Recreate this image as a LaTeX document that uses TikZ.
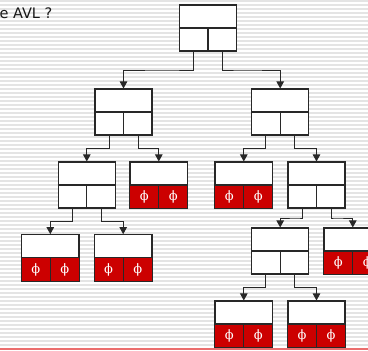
\documentclass[tikz,border=0pt]{standalone}
\usepackage{fontspec}
\newfontfamily\titlefont{DejaVu Sans}
\newfontfamily\nilfont{DejaVu Serif}
\usetikzlibrary{calc,arrows.meta}
\definecolor{nilred}{RGB}{204,0,0}
\definecolor{boxline}{RGB}{40,40,40}
\definecolor{stripe}{RGB}{228,228,228}
\definecolor{rule}{RGB}{235,110,110}
\tikzset{
    % one tree node: key on top, two child pointers below
    avl/.style={
        draw=boxline, fill=white, line width=1.1pt,
        minimum width=57pt, minimum height=46pt, inner sep=0pt
    },
    % pointer from a child cell down to the next node
    ptr/.style={line width=0.9pt, draw=boxline,
        -{Triangle[width=7.5pt,length=7pt]}},
    nil/.style={text=white, font=\nilfont\fontsize{13}{13}\selectfont, inner sep=0pt},
}

\begin{document}
\begin{tikzpicture}[x=1pt,y=-1pt]
  \useasboundingbox (0,0) rectangle (368,351);
  % striped background
  \fill[white] (0,0) rectangle (368,351);
  \foreach \yy in {1,5,...,345}
    \draw[stripe,line width=1.4pt] (0,\yy) -- (368,\yy);
  \draw[rule,line width=1.6pt] (0,349) -- (368,349);

  \node[anchor=base west,font=\titlefont\fontsize{14.5}{16}\selectfont,text=black!90]
    (title) at (-4,18) {e AVL ?};

  % nodes, level by level
  \node[avl] (r) at (208,28) {};
  \node[avl] (a) at (123.5,112) {};
  \node[avl] (b) at (280.2,112) {};
  \node[avl] (c) at (86.8,185) {};
  \node[avl] (d) at (158.8,185) {};
  \node[avl] (e) at (243.8,185) {};
  \node[avl] (f) at (316.5,185) {};
  \node[avl] (g) at (50.3,257.7) {};
  \node[avl] (h) at (123.2,257.7) {};
  \node[avl] (i) at (280.2,251) {};
  \node[avl] (j) at (352.8,251) {};
  \node[avl] (k) at (243.8,324) {};
  \node[avl] (l) at (316.5,324) {};

  % empty subtrees: red cells with phi
  \foreach \n in {d,e,g,h,j,k,l} {
    \fill[nilred] (\n.west) rectangle (\n.south east);
    \node[nil] (\n-nl) at ($(\n.west)!.5!(\n.south)$) {ϕ};
    \node[nil] (\n-nr) at ($(\n.east)!.5!(\n.south)$) {ϕ};
    \draw[boxline,line width=1.1pt] (\n.north west) rectangle (\n.south east);
  }

  % split every box into key + two cells
  \foreach \n in {r,a,b,c,d,e,f,g,h,i,j,k,l} {
    \draw[boxline,line width=1.1pt] (\n.west) -- (\n.east) (\n.center) -- (\n.south);
    \coordinate (\n-l) at ($(\n.south west)!.25!(\n.south east)$);
    \coordinate (\n-r) at ($(\n.south west)!.75!(\n.south east)$);
  }

  % pointers
  \foreach \p/\lc/\rc in {r/a/b, a/c/d, b/e/f, c/g/h, f/i/j, i/k/l} {
    \draw[ptr] (\p-l) |- ($(\p.south)!.5!(\lc.north)$) -| (\lc.north);
    \draw[ptr] (\p-r) |- ($(\p.south)!.5!(\rc.north)$) -| (\rc.north);
  }
\end{tikzpicture}
\end{document}
